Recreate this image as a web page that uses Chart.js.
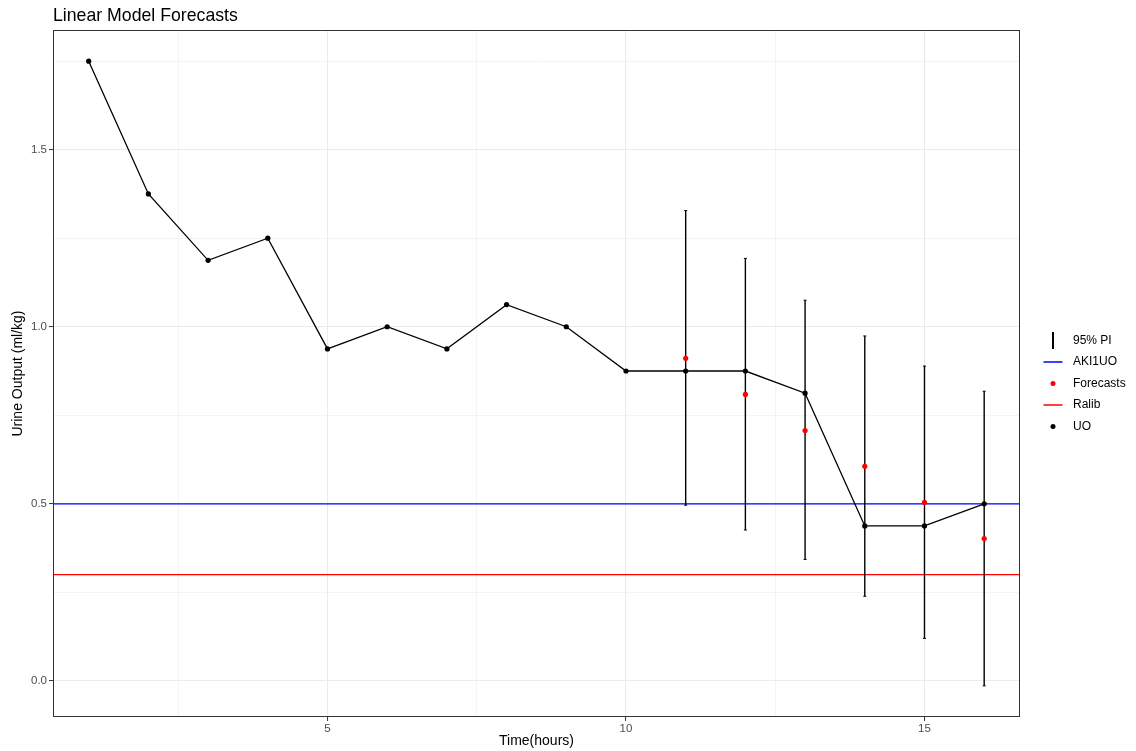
<!DOCTYPE html>
<html>
<head>
<meta charset="utf-8">
<script src="https://cdn.jsdelivr.net/npm/chart.js@4.4.1/dist/chart.umd.min.js"></script>
<style>
  html, body { margin: 0; padding: 0; background: #fff; }
  #wrap { position: relative; width: 1136px; height: 751px; }
</style>
</head>
<body>
<div id="wrap"><canvas id="chart-uo"></canvas></div>
<script>
// observed urine output per hour
var hours = [1, 2, 3, 4, 5, 6, 7, 8, 9, 10, 11, 12, 13, 14, 15, 16];
var uo = [1.75, 1.375, 1.1875, 1.25, 0.9375, 1.0, 0.9375, 1.0625, 1.0, 0.875, 0.875, 0.875, 0.8125, 0.4375, 0.4375, 0.5];

// linear model forecasts + 95% PI
var fcHours = [11, 12, 13, 14, 15, 16];
var forecasts = [0.911, 0.809, 0.707, 0.606, 0.504, 0.402];
var piLow = [0.496, 0.426, 0.343, 0.239, 0.120, -0.014];
var piHigh = [1.328, 1.193, 1.075, 0.974, 0.889, 0.818];

// threshold lines
var aki1uo = 0.5;
var ralib = 0.3;

var xTicks = [2.5, 5, 7.5, 10, 12.5, 15];
var xLabels = [5, 10, 15];
var yTicks = [0, 0.25, 0.5, 0.75, 1.0, 1.25, 1.5, 1.75];
var yLabels = [0, 0.5, 1.0, 1.5];
var xMin = 0.402, xMax = 16.6;
var yMin = -0.102, yMax = 1.838;

var FONT = "'Liberation Sans', Arial, Helvetica, sans-serif";

var uoPts = hours.map(function(h, i){ return {x: h, y: uo[i]}; });
var fcPts = fcHours.map(function(h, i){ return {x: h, y: forecasts[i]}; });
var piPts = [];
fcHours.forEach(function(h, i){
  piPts.push({x: h, y: piLow[i]});
  piPts.push({x: h, y: piHigh[i]});
  piPts.push({x: h, y: null});
});

function isMajor(v, list){
  return list.some(function(m){ return Math.abs(m - v) < 1e-9; });
}

// title, legend and full panel border (ggplot style)
var extras = {
  id: 'extras',
  afterDraw: function(chart){
    var ctx = chart.ctx, a = chart.chartArea;
    ctx.save();
    ctx.strokeStyle = '#333333';
    ctx.lineWidth = 1;
    ctx.strokeRect(Math.round(a.left) + 0.5, Math.round(a.top) + 0.5,
                   Math.round(a.right - a.left) - 1, Math.round(a.bottom - a.top) - 1);

    ctx.fillStyle = '#000';
    ctx.font = '17.7px ' + FONT;
    ctx.textBaseline = 'alphabetic';
    ctx.textAlign = 'left';
    ctx.fillText('Linear Model Forecasts', 53, 20.5);

    var items = [
      {label: '95% PI', kind: 'vbar', color: '#000000'},
      {label: 'AKI1UO', kind: 'line', color: '#0000ff'},
      {label: 'Forecasts', kind: 'dot', color: '#ff0000'},
      {label: 'Ralib', kind: 'line', color: '#ff0000'},
      {label: 'UO', kind: 'dot', color: '#000000'}
    ];
    var cx = 1053, tx = 1073, y0 = 340.5, step = 21.5;
    ctx.font = '12px ' + FONT;
    ctx.textBaseline = 'middle';
    items.forEach(function(it, i){
      var y = y0 + i * step;
      ctx.strokeStyle = it.color;
      ctx.fillStyle = it.color;
      if (it.kind === 'vbar') {
        ctx.lineWidth = 2;
        ctx.beginPath(); ctx.moveTo(cx, y - 8.5); ctx.lineTo(cx, y + 8.5); ctx.stroke();
      } else if (it.kind === 'line') {
        ctx.lineWidth = 1.5;
        ctx.beginPath(); ctx.moveTo(cx - 9.5, y); ctx.lineTo(cx + 9.5, y); ctx.stroke();
      } else {
        ctx.beginPath(); ctx.arc(cx, y, 2.5, 0, Math.PI * 2); ctx.fill();
      }
      ctx.fillStyle = '#000';
      ctx.fillText(it.label, tx, y);
    });
    ctx.restore();
  }
};

var ctx = document.getElementById('chart-uo').getContext('2d');
new Chart(ctx, {
  type: 'line',
  data: {
    datasets: [
      {
        label: 'UO',
        data: uoPts,
        borderColor: '#000000',
        backgroundColor: '#000000',
        borderWidth: 1.3,
        pointRadius: 2.6,
        pointBorderWidth: 0,
        tension: 0,
        fill: false,
        order: 1
      },
      {
        label: 'Forecasts',
        data: fcPts,
        showLine: false,
        backgroundColor: '#ff0000',
        borderColor: '#ff0000',
        pointRadius: 2.6,
        pointBorderWidth: 0,
        order: 0
      },
      {
        label: '95% PI',
        data: piPts,
        borderColor: '#000000',
        backgroundColor: '#000000',
        borderWidth: 1.4,
        pointStyle: 'line',
        pointRadius: 1.5,
        pointBorderWidth: 1,
        pointBorderColor: '#000000',
        spanGaps: false,
        order: 2
      },
      {
        label: 'AKI1UO',
        data: [{x: xMin, y: aki1uo}, {x: xMax, y: aki1uo}],
        borderColor: '#0000ff',
        borderWidth: 1.3,
        pointRadius: 0,
        order: 3
      },
      {
        label: 'Ralib',
        data: [{x: xMin, y: ralib}, {x: xMax, y: ralib}],
        borderColor: '#ff0000',
        borderWidth: 1.3,
        pointRadius: 0,
        order: 3
      }
    ]
  },
  options: {
    responsive: true,
    maintainAspectRatio: false,
    animation: false,
    events: [],
    layout: { padding: { top: 30, right: 116, left: 0, bottom: 0 } },
    plugins: {
      legend: { display: false },
      tooltip: { enabled: false },
      title: { display: false }
    },
    scales: {
      x: {
        type: 'linear',
        min: xMin,
        max: xMax,
        afterBuildTicks: function(s){ s.ticks = xTicks.map(function(v){ return {value: v}; }); },
        afterFit: function(s){ s.height = 34; },
        border: { display: false },
        grid: {
          color: '#ebebeb',
          lineWidth: function(c){ return isMajor(c.tick.value, xLabels) ? 1.1 : 0.55; },
          tickColor: function(c){ return isMajor(c.tick.value, xLabels) ? '#333333' : 'rgba(0,0,0,0)'; },
          tickLength: 4,
          tickWidth: 1
        },
        ticks: {
          autoSkip: false,
          maxRotation: 0,
          padding: 1,
          color: '#4d4d4d',
          font: { family: FONT, size: 11.5 },
          callback: function(v){ return isMajor(v, xLabels) ? String(v) : ''; }
        },
        title: {
          display: true,
          text: 'Time(hours)',
          color: '#000',
          font: { family: FONT, size: 14 },
          padding: { top: 0, bottom: 1 }
        }
      },
      y: {
        type: 'linear',
        min: yMin,
        max: yMax,
        afterBuildTicks: function(s){ s.ticks = yTicks.map(function(v){ return {value: v}; }); },
        afterFit: function(s){ s.width = 53; },
        border: { display: false },
        grid: {
          color: '#ebebeb',
          lineWidth: function(c){ return isMajor(c.tick.value, yLabels) ? 1.1 : 0.55; },
          tickColor: function(c){ return isMajor(c.tick.value, yLabels) ? '#333333' : 'rgba(0,0,0,0)'; },
          tickLength: 4,
          tickWidth: 1
        },
        ticks: {
          autoSkip: false,
          padding: 2,
          color: '#4d4d4d',
          font: { family: FONT, size: 11.5 },
          callback: function(v){ return isMajor(v, yLabels) ? v.toFixed(1) : ''; }
        },
        title: {
          display: true,
          text: 'Urine Output (ml/kg)',
          color: '#000',
          font: { family: FONT, size: 14 },
          padding: { top: 10, bottom: 0 }
        }
      }
    }
  },
  plugins: [extras]
});
</script>
</body>
</html>
